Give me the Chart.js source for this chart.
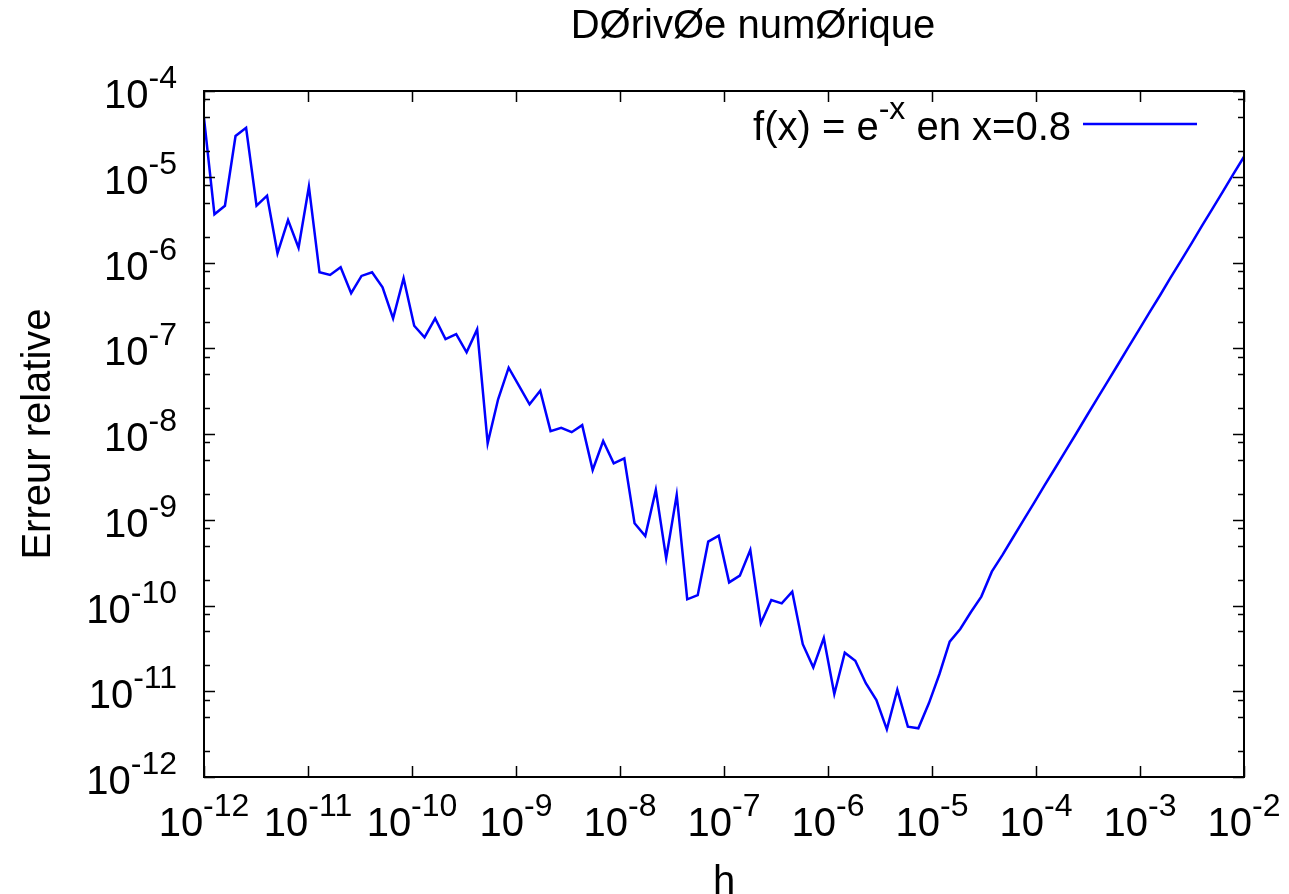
<!DOCTYPE html>
<html lang="fr">
<head>
  <meta charset="UTF-8">
  <title>Dérivée numérique</title>
  <script src="https://cdn.jsdelivr.net/npm/chart.js"></script>
  <style>
    body {
      margin: 0;
      background: #ffffff;
    }
    canvas {
      display: block;
    }
  </style>
</head>
<body>
  <canvas id="errChart" width="1289" height="894"></canvas>

  <script>
    // pas h (100 valeurs, espacement logarithmique de 1e-12 a 1e-2)
    const hValues = [
      1.00e-12, 1.26e-12, 1.59e-12, 2.01e-12, 2.54e-12, 3.20e-12, 4.04e-12, 5.09e-12, 6.43e-12, 8.11e-12,
      1.02e-11, 1.29e-11, 1.63e-11, 2.06e-11, 2.60e-11, 3.27e-11, 4.13e-11, 5.21e-11, 6.58e-11, 8.30e-11,
      1.05e-10, 1.32e-10, 1.67e-10, 2.10e-10, 2.66e-10, 3.35e-10, 4.23e-10, 5.34e-10, 6.73e-10, 8.50e-10,
      1.07e-9, 1.35e-9, 1.71e-9, 2.15e-9, 2.72e-9, 3.43e-9, 4.33e-9, 5.46e-9, 6.89e-9, 8.70e-9,
      1.10e-8, 1.38e-8, 1.75e-8, 2.21e-8, 2.78e-8, 3.51e-8, 4.43e-8, 5.59e-8, 7.05e-8, 8.90e-8,
      1.12e-7, 1.42e-7, 1.79e-7, 2.26e-7, 2.85e-7, 3.59e-7, 4.53e-7, 5.72e-7, 7.22e-7, 9.11e-7,
      1.15e-6, 1.45e-6, 1.83e-6, 2.31e-6, 2.92e-6, 3.68e-6, 4.64e-6, 5.86e-6, 7.39e-6, 9.33e-6,
      1.18e-5, 1.48e-5, 1.87e-5, 2.36e-5, 2.98e-5, 3.76e-5, 4.75e-5, 5.99e-5, 7.56e-5, 9.55e-5,
      1.20e-4, 1.52e-4, 1.92e-4, 2.42e-4, 3.05e-4, 3.85e-4, 4.86e-4, 6.14e-4, 7.74e-4, 9.77e-4,
      1.23e-3, 1.56e-3, 1.96e-3, 2.48e-3, 3.13e-3, 3.94e-3, 4.98e-3, 6.28e-3, 7.92e-3, 1.00e-2
    ];

    // erreur relative
    const errValues = [
      4.81e-5, 3.65e-6, 4.59e-6, 2.99e-5, 3.73e-5, 4.59e-6, 6.01e-6, 1.28e-6, 3.13e-6, 1.49e-6,
      7.66e-6, 7.69e-7, 7.15e-7, 8.79e-7, 4.38e-7, 6.97e-7, 7.69e-7, 5.14e-7, 2.23e-7, 6.55e-7,
      1.83e-7, 1.34e-7, 2.23e-7, 1.28e-7, 1.46e-7, 8.97e-8, 1.66e-7, 7.80e-9, 2.54e-8, 5.93e-8,
      3.63e-8, 2.22e-8, 3.20e-8, 1.08e-8, 1.18e-8, 1.05e-8, 1.27e-8, 3.80e-9, 8.28e-9, 4.55e-9,
      5.21e-9, 9.10e-10, 6.46e-10, 2.22e-9, 3.55e-10, 1.95e-9, 1.18e-10, 1.32e-10, 5.55e-10, 6.52e-10,
      1.86e-10, 2.23e-10, 4.44e-10, 6.19e-11, 1.16e-10, 1.06e-10, 1.45e-10, 3.54e-11, 1.90e-11, 4.18e-11,
      9.29e-12, 2.82e-11, 2.27e-11, 1.24e-11, 7.91e-12, 3.60e-12, 1.04e-11, 3.86e-12, 3.70e-12, 7.23e-12,
      1.59e-11, 3.78e-11, 5.32e-11, 8.33e-11, 1.27e-10, 2.48e-10, 3.87e-10, 6.17e-10, 9.82e-10, 1.56e-9,
      2.49e-9, 3.96e-9, 6.31e-9, 1.00e-8, 1.60e-8, 2.55e-8, 4.06e-8, 6.46e-8, 1.03e-7, 1.64e-7,
      2.61e-7, 4.15e-7, 6.61e-7, 1.05e-6, 1.67e-6, 2.67e-6, 4.25e-6, 6.76e-6, 1.08e-5, 1.71e-5
    ];

    const xTicks = [1e-12, 1e-11, 1e-10, 1e-9, 1e-8, 1e-7, 1e-6, 1e-5, 1e-4, 1e-3, 1e-2];
    const xTickExp = ["-12", "-11", "-10", "-9", "-8", "-7", "-6", "-5", "-4", "-3", "-2"];
    const yTicks = [1e-12, 1e-11, 1e-10, 1e-9, 1e-8, 1e-7, 1e-6, 1e-5, 1e-4];
    const yTickExp = ["-12", "-11", "-10", "-9", "-8", "-7", "-6", "-5", "-4"];
    const yMinorFactors = [2, 5, 8];

    const titleText = "DØrivØe numØrique";
    const xLabel = "h";
    const yLabel = "Erreur relative";

    const FONT = '"Liberation Sans", Arial, sans-serif';
    const BIG = "40px " + FONT;
    const SUP = "32px " + FONT;
    const LINE_COLOR = "#0000ff";

    // "10" suivi de l'exposant en exposant
    function powWidth(ctx, exp) {
      ctx.font = BIG;
      const w1 = ctx.measureText("10").width;
      ctx.font = SUP;
      return w1 + ctx.measureText(exp).width;
    }

    function drawPow(ctx, x, base, exp) {
      ctx.textAlign = "left";
      ctx.textBaseline = "alphabetic";
      ctx.font = BIG;
      ctx.fillText("10", x, base);
      const w1 = ctx.measureText("10").width;
      ctx.font = SUP;
      ctx.fillText(exp, x + w1, base - 20);
    }

    const gnuplotFrame = {
      id: "gnuplotFrame",
      afterDraw(chart) {
        const ctx = chart.ctx;
        const area = chart.chartArea;
        const xs = chart.scales.x;
        const ys = chart.scales.y;
        ctx.save();
        ctx.fillStyle = "#000";
        ctx.strokeStyle = "#000";

        // ticks
        ctx.lineWidth = 1.5;
        ctx.beginPath();
        xTicks.forEach(v => {
          const px = Math.round(xs.getPixelForValue(v)) + 0.5;
          ctx.moveTo(px, area.bottom);
          ctx.lineTo(px, area.bottom - 11);
          ctx.moveTo(px, area.top);
          ctx.lineTo(px, area.top + 11);
        });
        yTicks.forEach((v, i) => {
          const py = Math.round(ys.getPixelForValue(v)) + 0.5;
          ctx.moveTo(area.left, py);
          ctx.lineTo(area.left + 11, py);
          ctx.moveTo(area.right, py);
          ctx.lineTo(area.right - 11, py);
          if (i < yTicks.length - 1) {
            yMinorFactors.forEach(f => {
              const pm = Math.round(ys.getPixelForValue(v * f)) + 0.5;
              ctx.moveTo(area.left, pm);
              ctx.lineTo(area.left + 6, pm);
              ctx.moveTo(area.right, pm);
              ctx.lineTo(area.right - 6, pm);
            });
          }
        });
        ctx.stroke();

        // cadre
        ctx.lineWidth = 2;
        ctx.strokeRect(area.left, area.top, area.right - area.left, area.bottom - area.top);

        // etiquettes des axes
        xTicks.forEach((v, i) => {
          const px = xs.getPixelForValue(v);
          const w = powWidth(ctx, xTickExp[i]);
          drawPow(ctx, px - w / 2, area.bottom + 59, xTickExp[i]);
        });
        yTicks.forEach((v, i) => {
          const py = ys.getPixelForValue(v);
          const w = powWidth(ctx, yTickExp[i]);
          drawPow(ctx, area.left - 27 - w, py + 17, yTickExp[i]);
        });

        // titre et noms des axes
        ctx.font = BIG;
        ctx.textAlign = "center";
        ctx.textBaseline = "alphabetic";
        ctx.fillText(titleText, 753, 38);
        ctx.fillText(xLabel, (area.left + area.right) / 2, 894);
        ctx.save();
        ctx.translate(50, (area.top + area.bottom) / 2);
        ctx.rotate(-Math.PI / 2);
        ctx.fillText(yLabel, 0, 0);
        ctx.restore();

        // legende
        const part1 = "f(x) = e";
        const part2 = "-x";
        const part3 = " en x=0.8";
        ctx.font = BIG;
        const w1 = ctx.measureText(part1).width;
        const w3 = ctx.measureText(part3).width;
        ctx.font = SUP;
        const w2 = ctx.measureText(part2).width;
        let lx = 1071 - (w1 + w2 + w3);
        ctx.textAlign = "left";
        ctx.font = BIG;
        ctx.fillText(part1, lx, 140);
        ctx.font = SUP;
        ctx.fillText(part2, lx + w1, 119);
        ctx.font = BIG;
        ctx.fillText(part3, lx + w1 + w2, 140);

        ctx.strokeStyle = LINE_COLOR;
        ctx.lineWidth = 2.5;
        ctx.beginPath();
        ctx.moveTo(1083, 124);
        ctx.lineTo(1197, 124);
        ctx.stroke();

        ctx.restore();
      }
    };

    const points = hValues.map((h, i) => ({ x: h, y: errValues[i] }));

    new Chart(document.getElementById("errChart").getContext("2d"), {
      type: "line",
      data: {
        datasets: [{
          label: "f(x) = e^-x en x=0.8",
          data: points,
          borderColor: LINE_COLOR,
          borderWidth: 2.5,
          pointRadius: 0,
          tension: 0,
          fill: false
        }]
      },
      options: {
        responsive: false,
        animation: false,
        devicePixelRatio: 1,
        layout: {
          padding: { left: 204, right: 45, top: 91, bottom: 117 }
        },
        scales: {
          x: { type: "logarithmic", min: 1e-12, max: 1e-2, display: false },
          y: { type: "logarithmic", min: 1e-12, max: 1e-4, display: false }
        },
        plugins: {
          legend: { display: false },
          tooltip: { enabled: false }
        }
      },
      plugins: [gnuplotFrame]
    });
  </script>
</body>
</html>
